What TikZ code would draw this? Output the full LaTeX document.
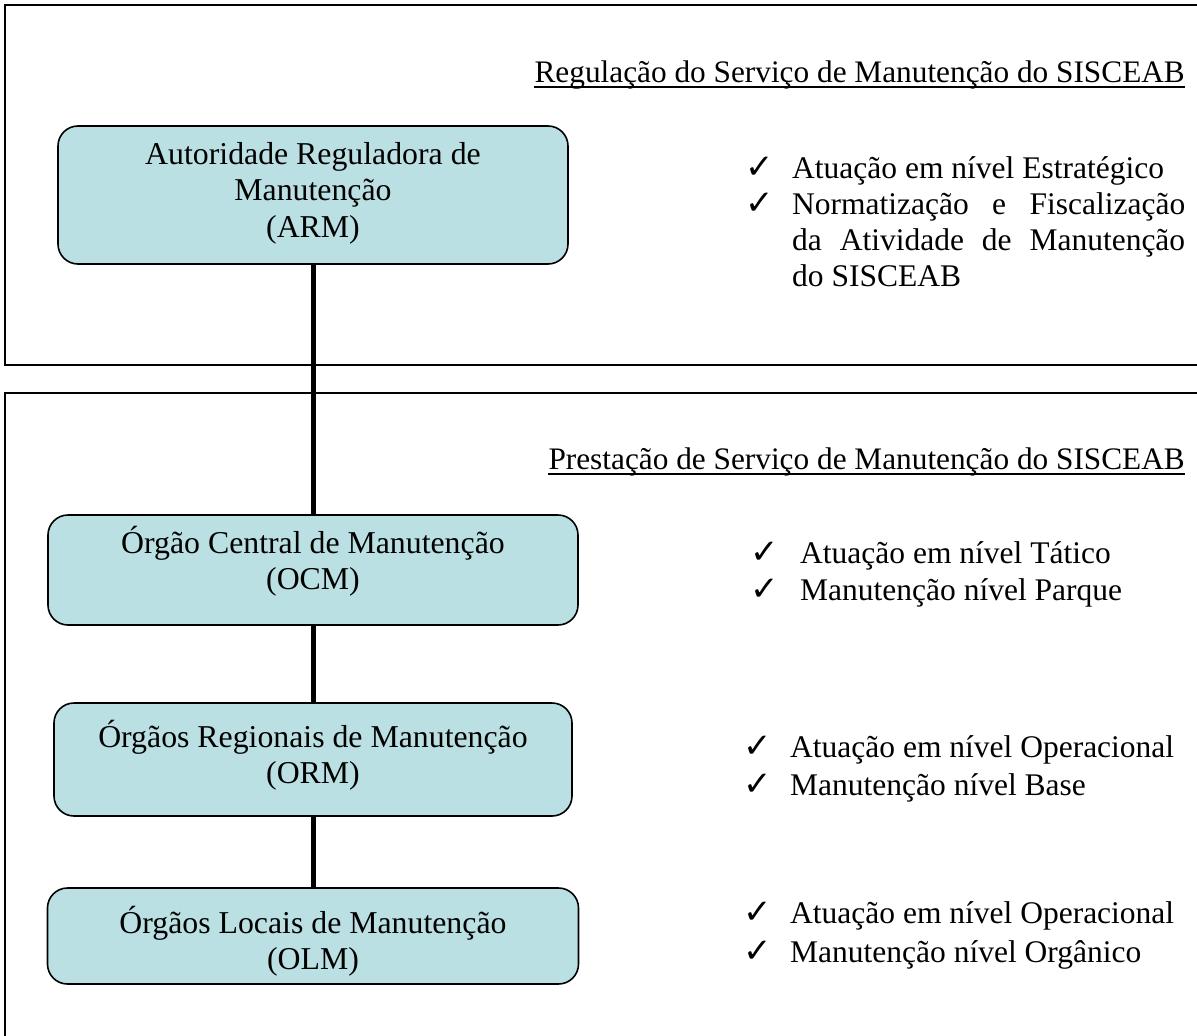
\documentclass[tikz,border=0pt]{standalone}
\usepackage{fontspec}
\setmainfont{Liberation Serif}
\newfontfamily\symfont{DejaVu Sans}
\definecolor{boxfill}{RGB}{187,224,227}
\begin{document}
\begin{tikzpicture}[x=1pt,y=-1pt,
  frame/.style={line width=1.5pt},
  orgbox/.style={draw, line width=1.6pt, fill=boxfill, rounded corners=20pt, inner sep=0pt},
  orgtext/.style={align=center, font=\fontsize{31.8}{36.5}\selectfont, inner sep=0pt},
  link/.style={line width=5pt},
  txt/.style={font=\fontsize{31.5}{36}\selectfont, inner sep=0pt, anchor=base west},
  ttl/.style={font=\fontsize{31.3}{36}\selectfont, inner sep=0pt, anchor=base east},
  chk/.style={font=\symfont\fontsize{34}{34}\selectfont, inner sep=0pt, anchor=base west},
  uline/.style={line width=1.5pt}]
\useasboundingbox[fill=white] (0,0) rectangle (1197,1036);
\begin{scope}
\clip (0,0) rectangle (1197,1036);
\draw[frame] (5,5) rectangle (1230,365);
\draw[frame] (5,393) rectangle (1230,1070);
\end{scope}

% titles
\node[ttl] (t1) at (1185,82) {Regulação do Serviço de Manutenção do SISCEAB};
\draw[uline] ([yshift=-5pt]t1.base west) -- ([yshift=-5pt]t1.base east);
\node[ttl] (t2) at (1185,469) {Prestação de Serviço de Manutenção do SISCEAB};
\draw[uline] ([yshift=-5pt]t2.base west) -- ([yshift=-5pt]t2.base east);

% boxes
\node[orgbox, minimum width=510pt, minimum height=138pt] (arm) at (313,195) {};
\node[orgbox, minimum width=530pt, minimum height=110pt] (ocm) at (313,570) {};
\node[orgbox, minimum width=518pt, minimum height=113pt] (orm) at (313,759.5) {};
\node[orgbox, minimum width=531pt, minimum height=96pt] (olm) at (313,936) {};

% connectors
\draw[link] (arm.south) -- (ocm.north);
\draw[link] (ocm.south) -- (orm.north);
\draw[link] (orm.south) -- (olm.north);

% box texts
\node[orgtext] (armt) at (313,193) {Autoridade Reguladora de\\Manutenção\\(ARM)};
\node[orgtext] (ocmt) at (313,561) {Órgão Central de Manutenção\\(OCM)};
\node[orgtext] (ormt) at (313,755) {Órgãos Regionais de Manutenção\\(ORM)};
\node[orgtext] (olmt) at (313,941) {Órgãos Locais de Manutenção\\(OLM)};

% bullets group 1
\node[chk] (c1a) at (745,178) {✓};
\node[txt] (b1a) at (792,178) {Atuação em nível Estratégico};
\node[chk] (c1b) at (745,214) {✓};
\node[txt] (b1b) at (792,214) {\makebox[393pt][s]{Normatização e Fiscalização}};
\node[txt] (b1c) at (792,250) {\makebox[393pt][s]{da Atividade de Manutenção}};
\node[txt] (b1d) at (792,286) {do SISCEAB};

% bullets group 2
\node[chk] (c2a) at (750,563) {✓};
\node[txt] (b2a) at (800,563) {Atuação em nível Tático};
\node[chk] (c2b) at (750,600) {✓};
\node[txt] (b2b) at (800,600) {Manutenção nível Parque};

% bullets group 3
\node[chk] (c3a) at (743,757) {✓};
\node[txt] (b3a) at (790,757) {Atuação em nível Operacional};
\node[chk] (c3b) at (743,795) {✓};
\node[txt] (b3b) at (790,795) {Manutenção nível Base};

% bullets group 4
\node[chk] (c4a) at (743,923) {✓};
\node[txt] (b4a) at (790,923) {Atuação em nível Operacional};
\node[chk] (c4b) at (743,962) {✓};
\node[txt] (b4b) at (790,962) {Manutenção nível Orgânico};
\end{tikzpicture}
\end{document}
